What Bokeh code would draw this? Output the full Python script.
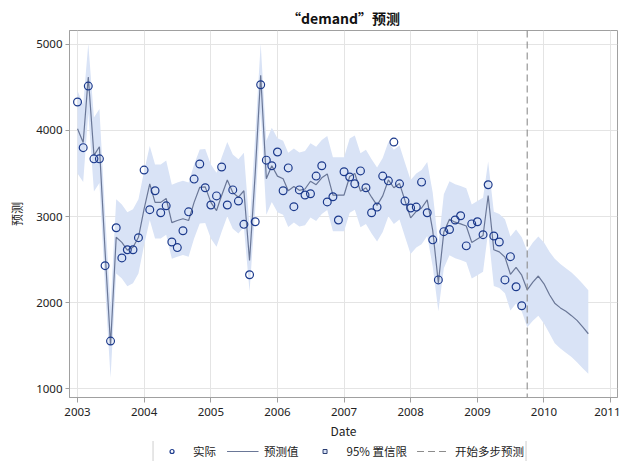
import pandas as pd
from bokeh.plotting import figure
from bokeh.layouts import column
from bokeh.models import (ColumnDataSource, Span, Legend, LegendItem, FixedTicker,
                          DatetimeTickFormatter, Range1d)
from bokeh.embed import file_html
from bokeh.resources import INLINE

# ---------------- data ----------------
actual = [4330, 3800, 4515, 3670, 3670, 2430, 1555, 2870, 2520, 2615, 2615, 2755,
          3540, 3080, 3300, 3045, 3125, 2705, 2640, 2835, 3055, 3435, 3610, 3335,
          3135, 3240, 3575, 3135, 3310, 3180, 2910, 2325, 2940, 4530, 3655, 3590,
          3750, 3300, 3565, 3115, 3310, 3250, 3265, 3470, 3590, 3170, 3230, 2960,
          3520, 3460, 3380, 3530, 3335, 3045, 3110, 3470, 3415, 3865, 3380, 3180,
          3100, 3110, 3400, 3045, 2730, 2265, 2825, 2850, 2960, 3010, 2660, 2915,
          2940, 2790, 3370, 2775, 2705, 2265, 2535, 2185, 1965]

pred = [4020, 3860, 4620, 3710, 3810, 2600, 1510, 2760, 2700, 2610, 2645, 2760,
        3090, 3380, 3165, 3165, 3210, 2930, 2955, 2975, 2955, 3165, 3340, 3345,
        3165, 3070, 3245, 3425, 3280, 3225, 3300, 2490, 3500, 4640, 3440, 3590,
        3470, 3440, 3300, 3350, 3305, 3320, 3410, 3370, 3450, 3495, 3250, 3250,
        3250, 3465, 3500, 3295, 3335, 3225, 3130, 3240, 3425, 3335, 3385, 3185,
        2985, 3060, 3100, 3195, 2840, 2230, 2820, 2970, 2935, 2915, 2890, 2700,
        2740, 2780, 3245, 2615, 2590, 2530, 2330, 2410, 2320,
        2150, 2240, 2310, 2220, 2090, 1995, 1940, 1900, 1850, 1795, 1720, 1640]

upper = [4460, 4300, 5010, 4150, 4250, 3040, 1950, 3200, 3140, 3050, 3085, 3200,
         3530, 3820, 3605, 3605, 3650, 3370, 3395, 3415, 3395, 3605, 3780, 3785,
         3605, 3510, 3685, 3865, 3720, 3665, 3740, 2880, 3940, 5010, 3880, 4030,
         3910, 3880, 3740, 3790, 3745, 3760, 3850, 3810, 3890, 3935, 3690, 3690,
         3690, 3905, 3940, 3735, 3775, 3665, 3570, 3680, 3865, 3775, 3825, 3625,
         3425, 3500, 3540, 3635, 3280, 2670, 3260, 3410, 3375, 3355, 3330, 3140,
         3180, 3220, 3640, 3055, 3030, 2970, 2770, 2850, 2760,
         2600, 2700, 2770, 2700, 2590, 2510, 2450, 2400, 2350, 2290, 2220, 2145]

lower = [3500, 3400, 4200, 3290, 3390, 2180, 1130, 2340, 2280, 2190, 2225, 2340,
         2670, 2960, 2745, 2745, 2790, 2510, 2535, 2555, 2535, 2745, 2920, 2925,
         2745, 2650, 2825, 3005, 2860, 2805, 2880, 2130, 3080, 4220, 3020, 3170,
         3050, 3020, 2880, 2930, 2885, 2900, 2990, 2950, 3030, 3075, 2830, 2830,
         2830, 3045, 3080, 2875, 2915, 2805, 2710, 2820, 3005, 2915, 2965, 2765,
         2565, 2640, 2680, 2775, 2420, 1900, 2400, 2550, 2515, 2495, 2470, 2280,
         2320, 2360, 2825, 2195, 2170, 2110, 1910, 1990, 1900,
         1715, 1790, 1850, 1760, 1640, 1530, 1470, 1420, 1370, 1310, 1240, 1175]

start_month = "2003-01-01"
tick_years = [2003, 2004, 2005, 2006, 2007, 2008, 2009, 2010, 2011]

# ---------------- build ----------------
dates = pd.date_range(start_month, periods=len(pred), freq="MS")
src_all = ColumnDataSource(dict(date=dates, pred=pred, lower=lower, upper=upper))
src_act = ColumnDataSource(dict(date=dates[:len(actual)], actual=actual))

CJK = "Noto Sans CJK SC"
LAT = "Noto Sans"
band_color = "#d9e3f6"
marker_color = "#1c3a8c"
line_color = "#6a7797"
grid_color = "#e4e4e4"
frame_color = "#a0a0a0"
dash_color = "#8c8c8c"

p = figure(x_axis_type="datetime", output_backend="svg", toolbar_location=None,
           frame_width=548, frame_height=367,
           min_border_left=59, min_border_right=8, min_border_top=30, min_border_bottom=0,
           x_range=Range1d(pd.Timestamp("2002-11-18"), pd.Timestamp("2011-02-08")),
           y_range=Range1d(900, 5160),
           background_fill_color="white", border_fill_color="white")

p.title.text = "\u201cdemand\u201d预测"
p.title.align = "center"
p.title.text_font = CJK
p.title.text_font_size = "14px"
p.title.text_font_style = "bold"
p.title.text_color = "#111111"
p.title.standoff = 6

p.varea(x="date", y1="lower", y2="upper", source=src_all, fill_color=band_color)
p.line(x="date", y="pred", source=src_all, line_color=line_color, line_width=1.2)
p.scatter(x="date", y="actual", source=src_act, marker="circle", size=7.8,
          fill_color=None, line_color=marker_color, line_width=1.2)

fc_start = dates[len(actual)]
span = Span(location=fc_start.timestamp() * 1000, dimension="height",
            line_color=dash_color, line_dash="7 4", line_width=1.1)
p.add_layout(span)

# axes
p.xaxis.ticker = FixedTicker(ticks=[pd.Timestamp(f"{y}-01-01").timestamp() * 1000 for y in tick_years])
p.xaxis.formatter = DatetimeTickFormatter(years="%Y", months="%Y", days="%Y", hours="%Y",
                                          minutes="%Y", seconds="%Y", milliseconds="%Y",
                                          microseconds="%Y", minsec="%Y", hourmin="%Y")
p.yaxis.ticker = FixedTicker(ticks=[1000, 2000, 3000, 4000, 5000])
p.xaxis.axis_label = "Date"
p.yaxis.axis_label = "预测"
for ax in (p.xaxis[0], p.yaxis[0]):
    ax.axis_label_text_font = CJK
    ax.axis_label_text_font_size = "12px"
    ax.axis_label_text_font_style = "normal"
    ax.axis_label_text_color = "#222222"
    ax.major_label_text_font = LAT
    ax.major_label_text_font_size = "11.5px"
    ax.major_label_text_color = "#222222"
    ax.axis_line_color = frame_color
    ax.major_tick_line_color = frame_color
    ax.major_tick_in = 0
    ax.minor_tick_line_color = None
p.yaxis.major_tick_out = 4
p.xaxis.major_tick_out = 5
p.yaxis.major_label_standoff = 3
p.yaxis.axis_label_standoff = 8
p.xaxis.major_label_standoff = 5
p.xaxis.axis_label_standoff = 3

p.xgrid.grid_line_color = grid_color
p.ygrid.grid_line_color = grid_color
p.xgrid.ticker = p.xaxis.ticker
p.ygrid.ticker = p.yaxis.ticker
p.outline_line_color = frame_color

# ---------------- legend strip (separate small figure) ----------------
lg = figure(output_backend="svg", toolbar_location=None, width=618, height=20,
            x_range=Range1d(0, 1), y_range=Range1d(0, 1),
            x_axis_location=None, y_axis_location=None,
            min_border_left=69, min_border_right=0, min_border_top=0, min_border_bottom=0,
            background_fill_color="white", border_fill_color="white")
lg.outline_line_color = None
lg.grid.visible = False
r_pts = lg.scatter(x="date", y="actual", source=src_act, marker="circle", size=7.8,
                   fill_color=None, line_color=marker_color, line_width=1.2)
r_ln = lg.line(x="date", y="pred", source=src_all, line_color=line_color, line_width=1.2)
r_sq = lg.scatter(x="date", y="actual", source=src_act, marker="square", size=9,
                  fill_color=band_color, line_color="#2b3f73", line_width=1)
r_dash = lg.line(x="date", y="pred", source=src_all, line_color=dash_color,
                 line_dash="7 4", line_width=1.1)

legend = Legend(items=[
    LegendItem(label="实际", renderers=[r_pts]),
    LegendItem(label="预测值", renderers=[r_ln]),
    LegendItem(label="95% 置信限", renderers=[r_sq]),
    LegendItem(label="开始多步预测", renderers=[r_dash]),
], orientation="horizontal", location="center",
    label_text_font=CJK, label_text_font_size="11.5px", label_text_color="#222222",
    glyph_width=32, glyph_height=10, label_standoff=6, spacing=10,
    padding=2, margin=0, border_line_color=frame_color, border_line_width=1,
    background_fill_color="white", label_height=10)
lg.add_layout(legend)

open("out.html", "w").write(file_html(column(p, lg, spacing=0), INLINE))
